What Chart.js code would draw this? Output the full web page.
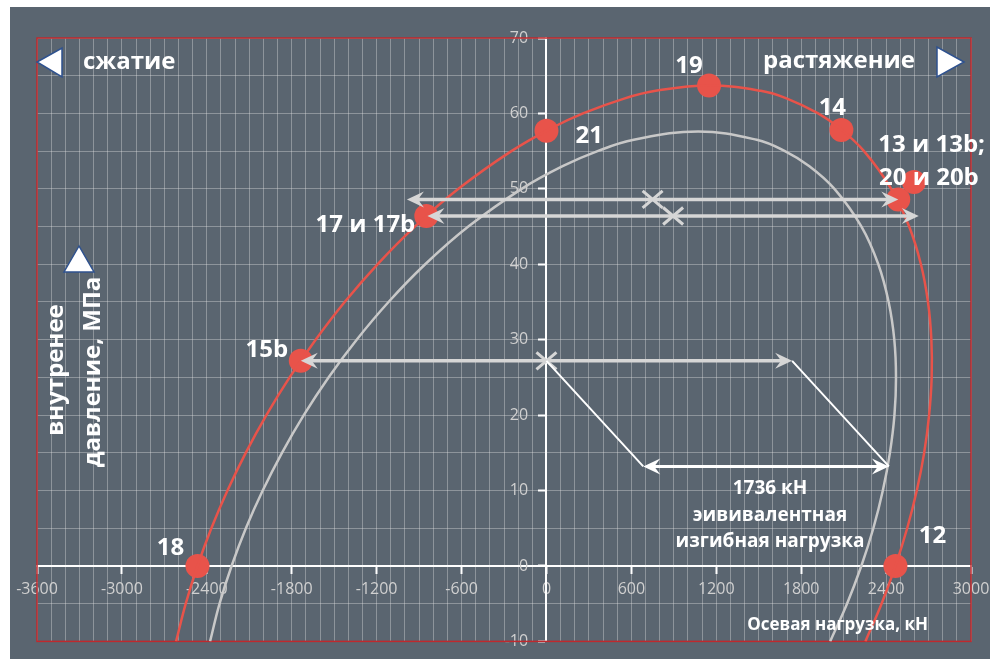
<!DOCTYPE html>
<html>
<head>
<meta charset="utf-8">
<script src="https://cdn.jsdelivr.net/npm/chart.js@4.4.1/dist/chart.umd.min.js"></script>
<style>
  html, body { margin: 0; padding: 0; background: #ffffff; }
  #wrap { width: 990px; height: 659px; }
</style>
</head>
<body>
<div id="wrap"><canvas id="c" width="990" height="659"></canvas></div>
<script>
// Axis ticks
const xTickValues = [-3600, -3000, -2400, -1800, -1200, -600, 0, 600, 1200, 1800, 2400, 3000];
const xTickLabels = ['-3600', '-3000', '-2400', '-1800', '-1200', '-600', '0', '600', '1200', '1800', '2400', '3000'];
const yTickValues = [-10, 0, 10, 20, 30, 40, 50, 60, 70];
const yTickLabels = ['-10', '0', '10', '20', '30', '40', '50', '60', '70'];

// Outer (red) envelope: axial load, kN / internal pressure, MPa
const redLoadKN = [-2617, -2549, -2466, -2368, -2254, -2125, -1979, -1815, -1631, -1426, -1194, -930, -622, -248,
  30, 258, 554, 772, 1149, 1514, 1696, 1920, 2074,
  2244, 2436, 2563, 2646, 2696, 2720, 2722, 2704, 2669, 2617, 2549, 2466, 2368, 2254];
const redPressureMPa = [-10, -5, 0, 5, 10, 15, 20, 25, 30, 35, 40, 45, 50, 55,
  58, 60, 62, 63, 63.7, 63, 62, 60, 58,
  55, 50, 45, 40, 35, 30, 25, 20, 15, 10, 5, 0, -5, -10];

// Inner (grey) envelope
const greyLoadKN = [-2377, -2310, -2225, -2124, -2005, -1869, -1715, -1540, -1341, -1116, -857, -552, -175,
  114, 361, 617, 1072, 1486, 1685, 1858,
  2035, 2226, 2345, 2418, 2458, 2470, 2459, 2427, 2377, 2310, 2225, 2124, 2005];
const greyPressureMPa = [-10, -5, 0, 5, 10, 15, 20, 25, 30, 35, 40, 45, 50,
  53, 55, 56.5, 57.6, 56.5, 55, 53,
  50, 45, 40, 35, 30, 25, 20, 15, 10, 5, 0, -5, -10];

// Test points
const pointNames = ['18', '15b', '17 и 17b', '21', '19', '14', '13 и 13b;', '20 и 20b', '12'];
const pointLoadKN = [-2466, -1736, -849, 0, 1149, 2084, 2486, 2597, 2466];
const pointPressureMPa = [0, 27.2, 46.4, 57.7, 63.7, 57.8, 48.6, 50.9, 0];

// Equivalent bending load arrows
const bendLoadKN = 1736;
const arrowLevelMPa = [48.6, 46.4, 27.2];
const arrowCentreKN = [750, 895, 0];
const shiftedLevelMPa = 13.2;
const shiftedStartKN = 684;

const BG = '#5a6570';
const RED = '#e8534a';
const LIGHT = '#d6d6d6';
const FONT = '"Open Sans", "DejaVu Sans", sans-serif';

const zip = (xs, ys) => xs.map((v, i) => ({ x: v, y: ys[i] }));

function arrowHead(ctx, x, y, ang, color) {
  const L = 17, W = 8, N = 11;
  ctx.save();
  ctx.translate(x, y);
  ctx.rotate(ang);
  ctx.beginPath();
  ctx.moveTo(0, 0);
  ctx.lineTo(-L, -W);
  ctx.lineTo(-N, 0);
  ctx.lineTo(-L, W);
  ctx.closePath();
  ctx.fillStyle = color;
  ctx.fill();
  ctx.restore();
}

function doubleArrow(ctx, x1, x2, y, color, width) {
  ctx.save();
  ctx.strokeStyle = color;
  ctx.lineWidth = width;
  ctx.beginPath();
  ctx.moveTo(x1 + 10, y);
  ctx.lineTo(x2 - 10, y);
  ctx.stroke();
  ctx.restore();
  arrowHead(ctx, x1, y, Math.PI, color);
  arrowHead(ctx, x2, y, 0, color);
}

function cross(ctx, x, y, r, color) {
  ctx.save();
  ctx.strokeStyle = color;
  ctx.lineWidth = 3;
  ctx.beginPath();
  ctx.moveTo(x - r, y - r * 0.85); ctx.lineTo(x + r, y + r * 0.85);
  ctx.moveTo(x - r, y + r * 0.85); ctx.lineTo(x + r, y - r * 0.85);
  ctx.stroke();
  ctx.restore();
}

function triangle(ctx, pts) {
  ctx.save();
  ctx.beginPath();
  ctx.moveTo(pts[0][0], pts[0][1]);
  ctx.lineTo(pts[1][0], pts[1][1]);
  ctx.lineTo(pts[2][0], pts[2][1]);
  ctx.closePath();
  ctx.fillStyle = '#ffffff';
  ctx.fill();
  ctx.strokeStyle = '#2f528f';
  ctx.lineWidth = 1.5;
  ctx.stroke();
  ctx.restore();
}

function text(ctx, str, x, y, size, align) {
  ctx.save();
  ctx.font = 'bold ' + size + 'px ' + FONT;
  ctx.fillStyle = '#ffffff';
  ctx.textAlign = align || 'left';
  ctx.textBaseline = 'alphabetic';
  ctx.fillText(str, x, y);
  ctx.restore();
}

// label offsets from each marker (pixels): dx, baseline dy, alignment
const labelPlacement = {
  '18': [-27, -11, 'center'],
  '15b': [-34, -4, 'center'],
  '17 и 17b': [-11, 16, 'right'],
  '21': [29, 12, 'left'],
  '19': [-20, -13, 'center'],
  '14': [-9, -15, 'center'],
  '13 и 13b;': [-20, -47, 'left'],
  '20 и 20b': [-35, 3, 'left'],
  '12': [37, -23, 'center']
};

const backdrop = {
  id: 'backdrop',
  beforeDraw(chart) {
    const c = chart.ctx;
    c.save();
    c.fillStyle = '#ffffff';
    c.fillRect(0, 0, chart.width, chart.height);
    c.fillStyle = BG;
    c.fillRect(10, 7, chart.width - 10, chart.height - 7);
    c.restore();
  },
  beforeDatasetsDraw(chart) {
    const { ctx, chartArea: a } = chart;
    ctx.save();
    ctx.strokeStyle = '#c0282d';
    ctx.lineWidth = 1.5;
    ctx.strokeRect(a.left, a.top, a.right - a.left, a.bottom - a.top);
    ctx.restore();
  },
  afterDatasetsDraw(chart) {
    const { ctx, chartArea: a, scales: { x, y } } = chart;
    const px = v => x.getPixelForValue(v);
    const py = v => y.getPixelForValue(v);

    // equivalent bending load, applied both ways around each load case
    arrowLevelMPa.forEach((p, i) => {
      const c = arrowCentreKN[i];
      doubleArrow(ctx, px(c - bendLoadKN), px(c + bendLoadKN), py(p), LIGHT, 3.5);
    });
    arrowLevelMPa.forEach((p, i) => cross(ctx, px(arrowCentreKN[i]), py(p), 10, LIGHT));

    // the same 1736 kN span carried down to the inner envelope
    const yTop = py(arrowLevelMPa[2]);
    const yLow = py(shiftedLevelMPa);
    ctx.save();
    ctx.strokeStyle = '#ffffff';
    ctx.lineWidth = 2;
    ctx.beginPath();
    ctx.moveTo(px(0), yTop); ctx.lineTo(px(shiftedStartKN), yLow);
    ctx.moveTo(px(bendLoadKN), yTop); ctx.lineTo(px(shiftedStartKN + bendLoadKN), yLow);
    ctx.stroke();
    ctx.restore();
    doubleArrow(ctx, px(shiftedStartKN), px(shiftedStartKN + bendLoadKN), yLow, '#ffffff', 3);

    text(ctx, bendLoadKN + ' кН', 770, 494, 19, 'center');
    text(ctx, 'эививалентная', 770, 521, 19, 'center');
    text(ctx, 'изгибная нагрузка', 770, 547, 19, 'center');

    // point labels
    pointNames.forEach((n, i) => {
      const [dx, dy, al] = labelPlacement[n];
      text(ctx, n, px(pointLoadKN[i]) + dx, py(pointPressureMPa[i]) + dy, 24, al);
    });

    // direction hints
    triangle(ctx, [[a.left, 62], [a.left + 25, 48], [a.left + 25, 77]]);
    triangle(ctx, [[a.right - 7, 62], [a.right - 34, 47], [a.right - 34, 77]]);
    triangle(ctx, [[79, 246], [64, 272], [94, 272]]);
    text(ctx, 'сжатие', 83, 69, 24, 'left');
    text(ctx, 'растяжение', 915, 68, 24, 'right');

    // axis titles
    ctx.save();
    ctx.translate(63, 370);
    ctx.rotate(-Math.PI / 2);
    text(ctx, 'внутренее', 0, 0, 24, 'center');
    ctx.restore();
    ctx.save();
    ctx.translate(100, 372);
    ctx.rotate(-Math.PI / 2);
    text(ctx, 'давление, МПа', 0, 0, 24, 'center');
    ctx.restore();
    text(ctx, 'Осевая нагрузка, кН', 928, 630, 17, 'right');
  }
};

new Chart(document.getElementById('c'), {
  type: 'scatter',
  data: {
    datasets: [
      {
        data: zip(greyLoadKN, greyPressureMPa),
        showLine: true, tension: 0.4,
        borderColor: '#c8c8c8', borderWidth: 2.5, pointRadius: 0
      },
      {
        data: zip(redLoadKN, redPressureMPa),
        showLine: true, tension: 0.4,
        borderColor: RED, borderWidth: 2.5, pointRadius: 0
      },
      {
        data: zip(pointLoadKN, pointPressureMPa),
        showLine: false,
        pointRadius: 12, pointHoverRadius: 12,
        backgroundColor: RED, borderWidth: 0
      }
    ]
  },
  options: {
    responsive: false,
    animation: false,
    devicePixelRatio: 1,
    layout: { padding: { left: 37, top: 38, right: 19, bottom: 17 } },
    plugins: { legend: { display: false }, tooltip: { enabled: false } },
    scales: {
      x: {
        type: 'linear',
        position: { y: 0 },
        min: -3600, max: 3000,
        grid: {
          z: -1,
          color: 'rgba(225,225,225,0.38)',
          lineWidth: 1,
          tickLength: 7,
          tickWidth: 2,
          tickColor: ctx => (ctx.tick && xTickValues.includes(ctx.tick.value)) ? '#ffffff' : 'rgba(0,0,0,0)'
        },
        border: { color: '#ffffff', width: 2 },
        ticks: {
          stepSize: 100,
          maxTicksLimit: 200,
          autoSkip: false,
          maxRotation: 0,
          padding: 0,
          color: '#d0d0d0',
          // tall line box drops the labels a little below the tick marks
          font: { family: FONT, size: 16, lineHeight: 2.1 },
          callback: v => { const i = xTickValues.indexOf(v); return i >= 0 ? xTickLabels[i] : ''; }
        }
      },
      y: {
        type: 'linear',
        position: { x: 0 },
        min: -10, max: 70,
        grid: {
          z: -1,
          color: 'rgba(225,225,225,0.38)',
          lineWidth: 1,
          tickLength: 7,
          tickWidth: 2,
          tickColor: ctx => (ctx.tick && yTickValues.includes(ctx.tick.value)) ? '#ffffff' : 'rgba(0,0,0,0)'
        },
        border: { color: '#ffffff', width: 2 },
        ticks: {
          stepSize: 5,
          maxTicksLimit: 100,
          autoSkip: false,
          padding: 8,
          color: '#d0d0d0',
          font: { family: FONT, size: 16 },
          // figure spaces keep the right-aligned labels clear of the axis line
          callback: v => { const i = yTickValues.indexOf(v); return i >= 0 ? yTickLabels[i] + '\u2007\u2007' : ''; }
        }
      }
    }
  },
  plugins: [backdrop]
});
</script>
</body>
</html>
